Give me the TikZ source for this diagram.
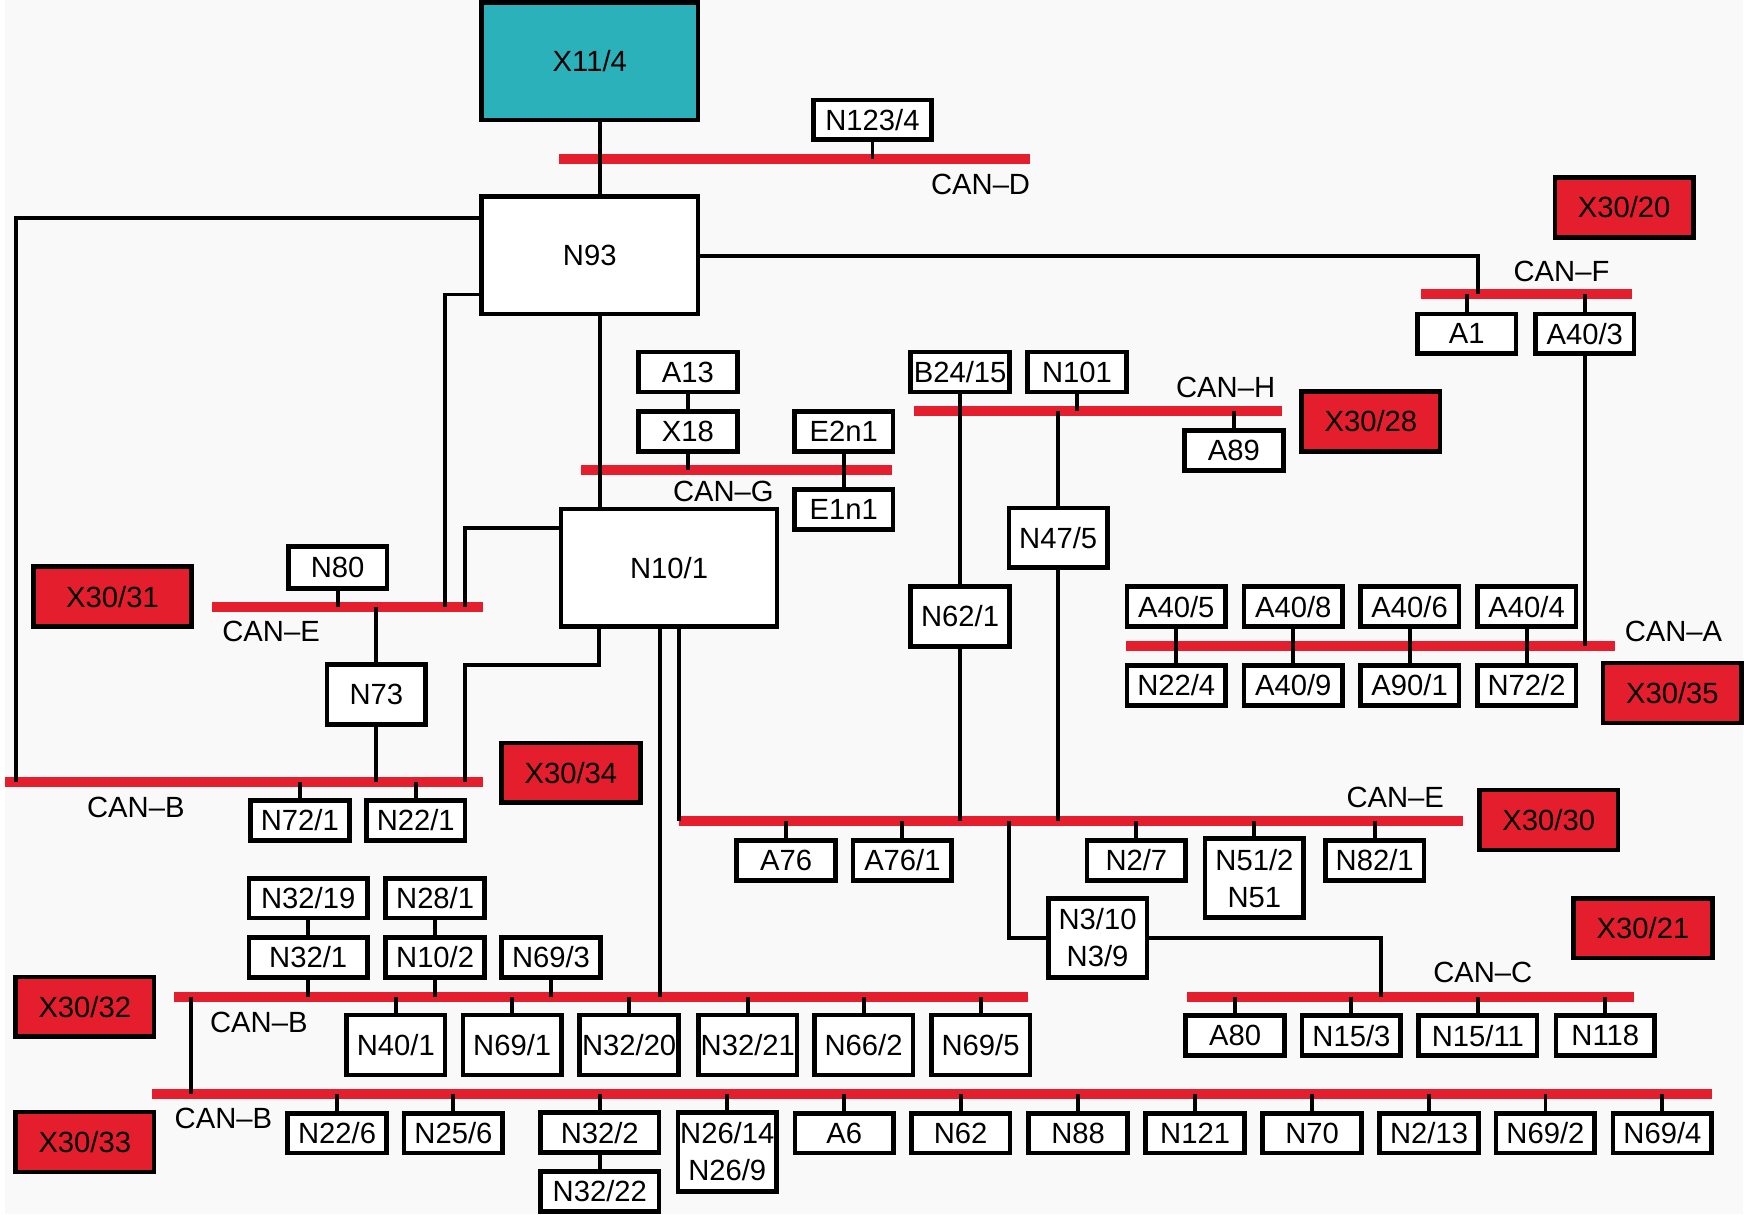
\documentclass[tikz,border=0pt]{standalone}
\usepackage{fontspec}
\setmainfont{Liberation Sans}
\usepackage{xcolor}
\definecolor{canred}{RGB}{229,30,45}
\definecolor{gwteal}{RGB}{42,177,186}
\definecolor{paper}{RGB}{249,249,249}

\begin{document}
\begin{tikzpicture}[x=0.02cm, y=-0.02cm, font=\fontsize{15}{19}\selectfont,
  box/.style={draw, line width=0.085cm, fill=white, minimum width=1.78cm, minimum height=0.72cm, inner sep=0pt},
  wide/.style={box, minimum width=2.14cm},
  tall/.style={box, minimum height=1.08cm},
  dbl/.style={box, minimum height=1.42cm, align=center},
  ecu/.style={box, minimum width=3.9cm, minimum height=2.12cm},
  plug/.style={box, fill=canred, minimum width=2.5cm, minimum height=1.08cm},
  bus/.style={canred, line width=0.18cm},
  wire/.style={line width=0.07cm}]
\fill[paper] (0,0) rectangle (1568,1095);

% gateway and central units
\node[ecu, fill=gwteal] (x11-4) at (527.5,55) {X11/4};
\node[ecu] (n93) at (527.5,230) {N93};
\node[ecu] (n10-1) at (599,512) {N10/1};

% CAN-D, CAN-F
\node[wide] (n123-4) at (782.5,108) {N123/4};
\node (lblD) at (880,166.5) {CAN--D};
\node[plug] (x30-20) at (1460.5,187) {X30/20};
\node (lblF) at (1404,244.5) {CAN--F};
\node[box] (a1) at (1318.5,301) {A1};
\node[box] (a40-3) at (1425,301) {A40/3};

% CAN-G, CAN-H
\node[box] (a13) at (616,335.5) {A13};
\node[box] (x18) at (616,389) {X18};
\node[box] (e2n1) at (756.5,389) {E2n1};
\node[box] (e1n1) at (756.5,459.5) {E1n1};
\node (lblG) at (648,443) {CAN--G};
\node[box] (b24-15) at (861.5,335.5) {B24/15};
\node[box] (n101) at (967,335.5) {N101};
\node (lblH) at (1101,349.5) {CAN--H};
\node[box] (a89) at (1108.5,406) {A89};
\node[plug] (x30-28) at (1232,380) {X30/28};
\node[tall] (n62-1) at (861.5,556) {N62/1};
\node[tall] (n47-5) at (950,485) {N47/5};

% CAN-E left, CAN-B top
\node[plug, minimum width=2.84cm] (x30-31) at (97,538) {X30/31};
\node[box, minimum height=0.76cm] (n80) at (300,512) {N80};
\node (lblEl) at (240,569) {CAN--E};
\node[tall] (n73) at (335,626.5) {N73};
\node[plug] (x30-34) at (510.5,697) {X30/34};
\node (lblBu) at (118,728) {CAN--B};
\node[box] (n72-1) at (266,740) {N72/1};
\node[box] (n22-1) at (370.5,740) {N22/1};

% CAN-A
\node[box] (a40-5) at (1056.5,547) {A40/5};
\node[box] (a40-8) at (1162,547) {A40/8};
\node[box] (a40-6) at (1267,547) {A40/6};
\node[box] (a40-4) at (1372.5,547) {A40/4};
\node[box] (n22-4) at (1056.5,618) {N22/4};
\node[box] (a40-9) at (1162,618) {A40/9};
\node[box] (a90-1) at (1267,618) {A90/1};
\node[box] (n72-2) at (1372.5,618) {N72/2};
\node (lblA) at (1505,569) {CAN--A};
\node[plug] (x30-35) at (1504,625) {X30/35};

% CAN-E right, CAN-C
\node (lblEr) at (1254,719) {CAN--E};
\node[plug] (x30-30) at (1392.5,739.5) {X30/30};
\node[box] (a76) at (704.5,776) {A76};
\node[box] (a76-1) at (809.5,776) {A76/1};
\node[box] (n2-7) at (1020.5,776) {N2/7};
\node[dbl] (n51-2) at (1127,792) {N51/2\\N51};
\node[box] (n82-1) at (1235.5,776) {N82/1};
\node[dbl] (n3-10) at (985.5,846) {N3/10\\N3/9};
\node[plug] (x30-21) at (1477.5,837) {X30/21};
\node (lblC) at (1333,877) {CAN--C};
\node[box] (a80) at (1109.5,934) {A80};
\node[box] (n15-3) at (1214.5,934) {N15/3};
\node[wide] (n15-11) at (1328.5,934) {N15/11};
\node[box] (n118) at (1443.5,934) {N118};

% CAN-B middle
\node[wide] (n32-19) at (273.5,810) {N32/19};
\node[box] (n28-1) at (388,810) {N28/1};
\node[wide] (n32-1) at (273.5,863.5) {N32/1};
\node[box] (n10-2) at (388,863.5) {N10/2};
\node[box] (n69-3) at (492.5,863.5) {N69/3};
\node[plug] (x30-32) at (72,908) {X30/32};
\node (lblBm) at (229,922) {CAN--B};
\node[tall] (n40-1) at (352.5,942.5) {N40/1};
\node[tall] (n69-1) at (457.5,942.5) {N69/1};
\node[tall] (n32-20) at (563,942.5) {N32/20};
\node[tall] (n32-21) at (670,942.5) {N32/21};
\node[tall] (n66-2) at (774.5,942.5) {N66/2};
\node[tall] (n69-5) at (880,942.5) {N69/5};

% CAN-B bottom
\node[plug] (x30-33) at (72,1030) {X30/33};
\node (lblBl) at (197,1009) {CAN--B};
\node[box] (n22-6) at (299.5,1022) {N22/6};
\node[box] (n25-6) at (404.5,1022) {N25/6};
\node[wide] (n32-2) at (536.5,1021.5) {N32/2};
\node[wide] (n32-22) at (536.5,1074.5) {N32/22};
\node[dbl] (n26-14) at (651.5,1039) {N26/14\\N26/9};
\node[box] (a6) at (757,1022) {A6};
\node[box] (n62) at (862,1022) {N62};
\node[box] (n88) at (968,1022) {N88};
\node[box] (n121) at (1073.5,1022) {N121};
\node[box] (n70) at (1179,1022) {N70};
\node[box] (n2-13) at (1284.5,1022) {N2/13};
\node[box] (n69-2) at (1389.5,1022) {N69/2};
\node[box] (n69-4) at (1495,1022) {N69/4};

% buses
\coordinate (canD-w) at (500,143);    \coordinate (canD-e) at (925,143);
\coordinate (canF-w) at (1277,265.5); \coordinate (canF-e) at (1468,265.5);
\coordinate (canG-w) at (520,424);    \coordinate (canG-e) at (800,424);
\coordinate (canH-w) at (820,371);    \coordinate (canH-e) at (1152,371);
\coordinate (canEl-w) at (187,547);   \coordinate (canEl-e) at (431,547);
\coordinate (canA-w) at (1011,582.5); \coordinate (canA-e) at (1452,582.5);
\coordinate (canBu-w) at (0,705);     \coordinate (canBu-e) at (431,705);
\coordinate (canEr-w) at (608,740.5); \coordinate (canEr-e) at (1315,740.5);
\coordinate (canBm-w) at (152,899.5); \coordinate (canBm-e) at (923,899.5);
\coordinate (canC-w) at (1066,899.5); \coordinate (canC-e) at (1469,899.5);
\coordinate (canBl-w) at (133,986.5); \coordinate (canBl-e) at (1540,986.5);
\draw[bus] (canD-w) -- (canD-e);
\draw[bus] (canF-w) -- (canF-e);
\draw[bus] (canG-w) -- (canG-e);
\draw[bus] (canH-w) -- (canH-e);
\draw[bus] (canEl-w) -- (canEl-e);
\draw[bus] (canA-w) -- (canA-e);
\draw[bus] (canBu-w) -- (canBu-e);
\draw[bus] (canEr-w) -- (canEr-e);
\draw[bus] (canBm-w) -- (canBm-e);
\draw[bus] (canC-w) -- (canC-e);
\draw[bus] (canBl-w) -- (canBl-e);

% bends of the long wires
\coordinate (trunk) at (537,0);
\coordinate (bLeft) at (10,196.5);
\coordinate (eLeft) at (397,265.5);
\coordinate (fTop) at (1329,231);
\coordinate (eMid) at (415,476);
\coordinate (bDrop) at (536,600);
\coordinate (bMid) at (415,600);
\coordinate (bLow) at (591,0);
\coordinate (n3Drop) at (906,846);
\coordinate (cUp) at (1241,846);
\coordinate (bridge) at (168,899.5);

\draw[wire] (x11-4.south -| trunk) -- (n93.north -| trunk);
\draw[wire] (n93.south -| trunk) -- (n10-1.north -| trunk);
\draw[wire] (n123-4.south) -- (n123-4 |- canD-w);
\draw[wire] (bLeft -| n93.west) -- (bLeft) -- (bLeft |- canBu-w);
\draw[wire] (eLeft -| n93.west) -- (eLeft) -- (eLeft |- canEl-w);
\draw[wire] (fTop -| n93.east) -- (fTop) -- (fTop |- canF-w);
\draw[wire] (eMid -| n10-1.west) -- (eMid) -- (eMid |- canEl-w);
\draw[wire] (n10-1.south -| bDrop) -- (bDrop) -- (bMid) -- (bMid |- canBu-w);
\draw[wire] (n10-1.south -| bLow) -- (bLow |- canBm-w);
\draw[wire] (n10-1.south -| canEr-w) -- (canEr-w);

\draw[wire] (a1.north) -- (a1 |- canF-w) (a40-3.north) -- (a40-3 |- canF-w);
\draw[wire] (a40-3.south) -- (a40-3 |- canA-w);
\draw[wire] (a13.south) -- (x18.north) (x18.south) -- (x18 |- canG-w);
\draw[wire] (e2n1.south) -- (e1n1.north);
\draw[wire] (b24-15.south) -- (n62-1.north) (n62-1.south) -- (n62-1 |- canEr-w);
\draw[wire] (n101.south) -- (n101 |- canH-w) (a89.north) -- (a89 |- canH-w);
\draw[wire] (n47-5 |- canH-w) -- (n47-5.north) (n47-5.south) -- (n47-5 |- canEr-w);

\draw[wire] (n80.south) -- (n80 |- canEl-w);
\draw[wire] (n73 |- canEl-w) -- (n73.north) (n73.south) -- (n73 |- canBu-w);
\draw[wire] (n72-1.north) -- (n72-1 |- canBu-w) (n22-1.north) -- (n22-1 |- canBu-w);

\draw[wire] (a40-5.south) -- (n22-4.north) (a40-8.south) -- (a40-9.north)
  (a40-6.south) -- (a90-1.north) (a40-4.south) -- (n72-2.north);

\draw[wire] (a76.north) -- (a76 |- canEr-w) (a76-1.north) -- (a76-1 |- canEr-w)
  (n2-7.north) -- (n2-7 |- canEr-w) (n51-2.north) -- (n51-2 |- canEr-w)
  (n82-1.north) -- (n82-1 |- canEr-w);
\draw[wire] (n3Drop |- canEr-w) -- (n3Drop) -- (n3-10.west);
\draw[wire] (n3-10.east) -- (cUp) -- (cUp |- canC-w);
\draw[wire] (a80.north) -- (a80 |- canC-w) (n15-3.north) -- (n15-3 |- canC-w)
  (n15-11.north) -- (n15-11 |- canC-w) (n118.north) -- (n118 |- canC-w);

\draw[wire] (n32-19.south) -- (n32-1.north) (n32-1.south) -- (n32-1 |- canBm-w);
\draw[wire] (n28-1.south) -- (n10-2.north) (n10-2.south) -- (n10-2 |- canBm-w);
\draw[wire] (n69-3.south) -- (n69-3 |- canBm-w);
\draw[wire] (n40-1.north) -- (n40-1 |- canBm-w) (n69-1.north) -- (n69-1 |- canBm-w)
  (n32-20.north) -- (n32-20 |- canBm-w) (n32-21.north) -- (n32-21 |- canBm-w)
  (n66-2.north) -- (n66-2 |- canBm-w) (n69-5.north) -- (n69-5 |- canBm-w);
\draw[wire] (bridge) -- (bridge |- canBl-w);

\draw[wire] (n22-6.north) -- (n22-6 |- canBl-w) (n25-6.north) -- (n25-6 |- canBl-w)
  (n32-2.north) -- (n32-2 |- canBl-w) (n26-14.north) -- (n26-14 |- canBl-w)
  (a6.north) -- (a6 |- canBl-w) (n62.north) -- (n62 |- canBl-w)
  (n88.north) -- (n88 |- canBl-w) (n121.north) -- (n121 |- canBl-w)
  (n70.north) -- (n70 |- canBl-w) (n2-13.north) -- (n2-13 |- canBl-w)
  (n69-2.north) -- (n69-2 |- canBl-w) (n69-4.north) -- (n69-4 |- canBl-w);
\draw[wire] (n32-2.south) -- (n32-22.north);
\end{tikzpicture}
\end{document}
